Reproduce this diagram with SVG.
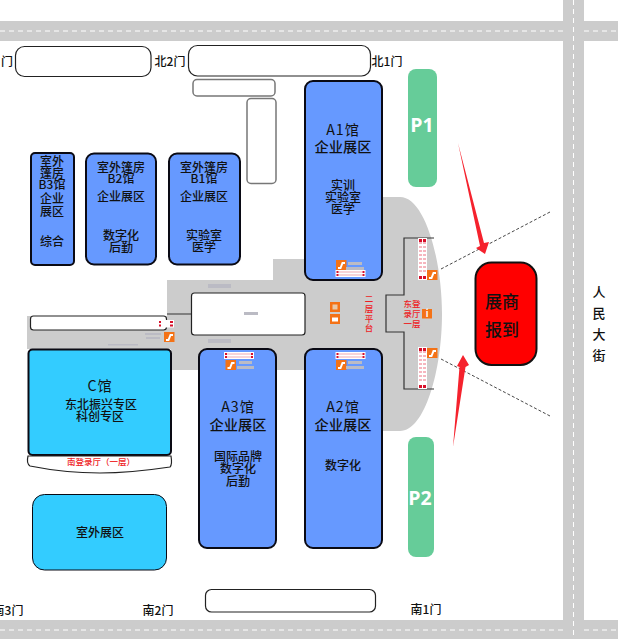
<svg xmlns="http://www.w3.org/2000/svg" width="620" height="639" viewBox="0 0 620 639">
<style>
text{font-family:"Noto Sans CJK SC","Noto Sans",sans-serif;fill:#111;text-anchor:middle}
.road{fill:#ccc}
.dash{stroke:#fff;stroke-width:1;stroke-dasharray:5 4;fill:none}
.hall{fill:#6699ff;stroke:#0a0a14;stroke-width:2}
.cyan{fill:#33ccff;stroke:#0a0a14}
.box{fill:#fff;stroke:#222;stroke-width:1.2}
.grey{fill:#fff;stroke:#777;stroke-width:1.5}
.park{fill:#66cc99}
.bar{fill:#bbbbc4}
.gate{font-size:12px;font-weight:500}
.t14{font-size:14.200px;font-weight:500}
.ttl{font-size:14.200px;letter-spacing:1px}
.t12{font-size:12px;font-weight:500}
.red{fill:#ee1c25;font-size:8.500px;font-weight:500}
.pt{fill:#fff;font-size:19.500px;font-weight:700;font-family:"Open Sans","Noto Sans",sans-serif}
.lk{stroke:#333;stroke-width:.9;stroke-dasharray:3 2;fill:none}
</style>
<defs>
<g id="esc"><rect width="10.500" height="10" fill="#f47216"/><path d="M2 8H4.500L6.500 3H9" fill="none" stroke="#fff" stroke-width="2"/></g>
<g id="rh"><rect width="30" height="7" fill="#fff"/><path d="M3 2H27M3 5H27" stroke="#f6c6cc" stroke-width="1.500"/><path d="M1 1h2v2h-2zM1 4h2v2h-2zM27 1h2v2h-2zM27 4h2v2h-2z" fill="#d8102a"/></g>
<g id="rv"><rect width="9" height="42" fill="#fff"/><path d="M1 5H8M1 9H8M1 13H8M1 17H8M1 21H8M1 25H8M1 29H8M1 33H8" stroke="#f6b6bf" stroke-width="2" stroke-dasharray="3 1"/><path d="M1 1h3v3h-3zM5 1h3v3h-3zM1 38h3v3h-3zM5 38h3v3h-3z" fill="#d8102a"/></g>
</defs>
<rect width="620" height="639" fill="#fff"/>
<g id="roads">
<rect class="road" x="0" y="21" width="618" height="20"/>
<rect class="road" x="0" y="620" width="618" height="19"/>
<rect class="road" x="563" y="0" width="21" height="639"/>
<path class="dash" d="M0 31H563M584 31H618M0 630H563M584 630H618M573.500 0V639"/>
</g>
<g id="concourse">
<path fill="#ccc" d="M27 316H167V280H273V259H383V197H400C425 197 442 260 442 314C442 370 425 431 400 431H383V370H171V349H27Z"/>
<path d="M167 314H191M434 238H404V295H386V332H404V389H434" fill="none" stroke="#333" stroke-width="1.200"/>
<rect class="bar" x="208" y="284" width="23" height="4"/>
<rect class="bar" x="208" y="339" width="23" height="4"/>
<rect class="bar" x="145" y="333" width="16" height="2"/>
<rect class="bar" x="146" y="337" width="14" height="2"/>
<rect class="bar" x="108" y="344" width="30" height="1.500"/>
</g>
<g id="connectors">
<path class="lk" d="M441 269L550 212M441 359L550 416"/>
<polygon fill="#f5222d" points="458,143 484,243 489,242 485,254 476,248 480,246"/>
<polygon fill="#f5222d" points="453,447 459.500,367 457,366 463,355 469,365 465.500,367"/>
</g>
<g id="door-n3"><rect class="box" x="15.500" y="46.500" width="135.500" height="30" rx="9"/></g>
<g id="door-n2"><rect class="box" x="188.500" y="45.500" width="182" height="30.500" rx="9"/></g>
<g id="room-1"><rect class="grey" x="193" y="79.500" width="82" height="16.500" rx="4"/></g>
<g id="room-2"><rect class="grey" x="247" y="98.500" width="29" height="85" rx="4"/></g>
<g id="door-s"><rect class="box" x="205.500" y="589.500" width="170" height="22.500" rx="6"/></g>
<g id="bar-w"><rect class="box" x="30.500" y="316" width="136" height="14" rx="3"/></g>
<g id="room-c"><rect class="box" x="191.500" y="293" width="113.500" height="42" rx="3"/><rect class="bar" x="244" y="312" width="14" height="3"/></g>
<g id="labels-gate">
<text class="gate" x="7" y="66">门</text><text class="gate" x="170" y="66">北2门</text><text class="gate" x="387" y="66">北1门</text>
<text class="gate" x="8" y="615">南3门</text><text class="gate" x="158" y="615">南2门</text><text class="gate" x="426" y="614">南1门</text>
</g>
<g id="hall-b3"><rect class="hall" x="31" y="153" width="43" height="112" rx="4"/>
<text class="t12" x="52" y="166">室外</text><text class="t12" x="52" y="178">篷房</text><text class="t12" x="52" y="189">B3馆</text><text class="t12" x="52" y="203">企业</text><text class="t12" x="52" y="216">展区</text><text class="t12" x="52" y="246">综合</text></g>
<g id="hall-b2"><rect class="hall" x="86" y="153.500" width="70" height="111" rx="8"/>
<text class="t12" x="121" y="172">室外篷房</text><text class="t12" x="121" y="183">B2馆</text><text class="t12" x="121" y="201">企业展区</text><text class="t12" x="121" y="240">数字化</text><text class="t12" x="121" y="252">后勤</text></g>
<g id="hall-b1"><rect class="hall" x="169" y="153.500" width="71" height="111" rx="8"/>
<text class="t12" x="204" y="172">室外篷房</text><text class="t12" x="204" y="183">B1馆</text><text class="t12" x="204" y="201">企业展区</text><text class="t12" x="204" y="240">实验室</text><text class="t12" x="204" y="252">医学</text></g>
<g id="hall-a1"><rect class="hall" x="305" y="81" width="77" height="199" rx="8"/>
<text class="ttl" x="343" y="135">A1馆</text><text class="t14" x="343" y="152">企业展区</text><text class="t12" x="343" y="190">实训</text><text class="t12" x="343" y="202">实验室</text><text class="t12" x="343" y="214">医学</text>
<use href="#esc" x="336" y="260"/><rect class="bar" x="348" y="262" width="14" height="3"/><rect class="bar" x="346" y="267" width="18" height="3"/><use href="#rh" x="335.500" y="270"/></g>
<g id="hall-a2"><rect class="hall" x="305" y="349" width="77" height="199" rx="8"/>
<text class="ttl" x="343" y="412">A2馆</text><text class="t14" x="343" y="430">企业展区</text><text class="t12" x="343" y="470">数字化</text>
<use href="#rh" x="335.500" y="352"/><use href="#esc" x="336" y="360"/><rect class="bar" x="348" y="361" width="14" height="3"/><rect class="bar" x="346" y="366" width="18" height="3"/></g>
<g id="hall-a3"><rect class="hall" x="199" y="349" width="77" height="199" rx="8"/>
<text class="ttl" x="238" y="412">A3馆</text><text class="t14" x="238" y="430">企业展区</text><text class="t12" x="238" y="461">国际品牌</text><text class="t12" x="238" y="473">数字化</text><text class="t12" x="238" y="486">后勤</text>
<use href="#rh" x="224" y="352"/><use href="#esc" x="225.500" y="360"/><rect class="bar" x="239" y="361" width="13" height="3"/><rect class="bar" x="237" y="366" width="17" height="3"/></g>
<g id="hall-c"><rect class="cyan" x="28.500" y="349.500" width="142.500" height="105.500" rx="4" stroke-width="2"/>
<text class="ttl" x="100" y="391">C馆</text><text class="t12" x="101" y="409">东北振兴专区</text><text class="t12" x="100" y="421">科创专区</text></g>
<g id="lobby-s"><path class="box" d="M28 456H171C172 462 172 465 170 467C150 470 125 473 100 473C75 473 50 470 30 466C27 464 27 460 28 456Z"/>
<text class="red" x="101" y="465">南登录厅（一层）</text></g>
<g id="outdoor"><rect class="cyan" x="32.500" y="494.500" width="134" height="75.500" rx="12"/><text class="t12" x="100" y="537">室外展区</text></g>
<g id="p1"><rect class="park" x="408" y="69" width="29" height="118" rx="8"/><text class="pt" x="422" y="132">P1</text></g>
<g id="p2"><rect class="park" x="408" y="437" width="26" height="120" rx="8"/><text class="pt" x="420" y="505">P2</text></g>
<g id="report"><rect x="475.500" y="262.500" width="61" height="102.500" rx="16" fill="#f00" stroke="#111" stroke-width="2"/><text x="502" y="308" style="font-size:17px;font-weight:500">展商</text><text x="502" y="336" style="font-size:17px;font-weight:500">报到</text></g>
<g id="street"><text class="t12" x="599" y="297" style="font-size:13px">人</text><text class="t12" x="599" y="318" style="font-size:13px">民</text><text class="t12" x="599" y="339" style="font-size:13px">大</text><text class="t12" x="599" y="360" style="font-size:13px">街</text></g>
<g id="east-lobby">
<use href="#rv" x="418" y="238"/><use href="#rv" x="418" y="347"/><use href="#esc" x="427" y="270"/><use href="#esc" x="427" y="348"/>
<rect x="422" y="309" width="10" height="9.500" fill="#f47216"/><text x="427" y="317" style="font-size:9px;font-weight:700;fill:#fff">i</text>
<text class="red" x="412" y="307">东登</text><text class="red" x="412" y="317">录厅</text><text class="red" x="412" y="327">一层</text>
<text class="red" x="369" y="302">二</text><text class="red" x="369" y="311.500">层</text><text class="red" x="369" y="321.500">平</text><text class="red" x="369" y="331">台</text>
</g>
<g id="services"><rect x="330" y="302" width="10" height="10" fill="#f47216"/><rect x="332.500" y="304.500" width="5" height="5" fill="#e8c8a8"/><rect x="330" y="314" width="10" height="10" fill="#f47216"/><rect x="332" y="317.500" width="6" height="4" fill="#fff"/></g>
<g id="west-stairs"><rect x="158" y="320" width="16" height="7.500" fill="#fff"/><path d="M159 321h2v2h-2zM159 324.500h2v2h-2zM170 321h3v2h-3zM170 324.500h3v2h-3z" fill="#d8102a"/><use href="#esc" x="164" y="332"/></g>
</svg>
